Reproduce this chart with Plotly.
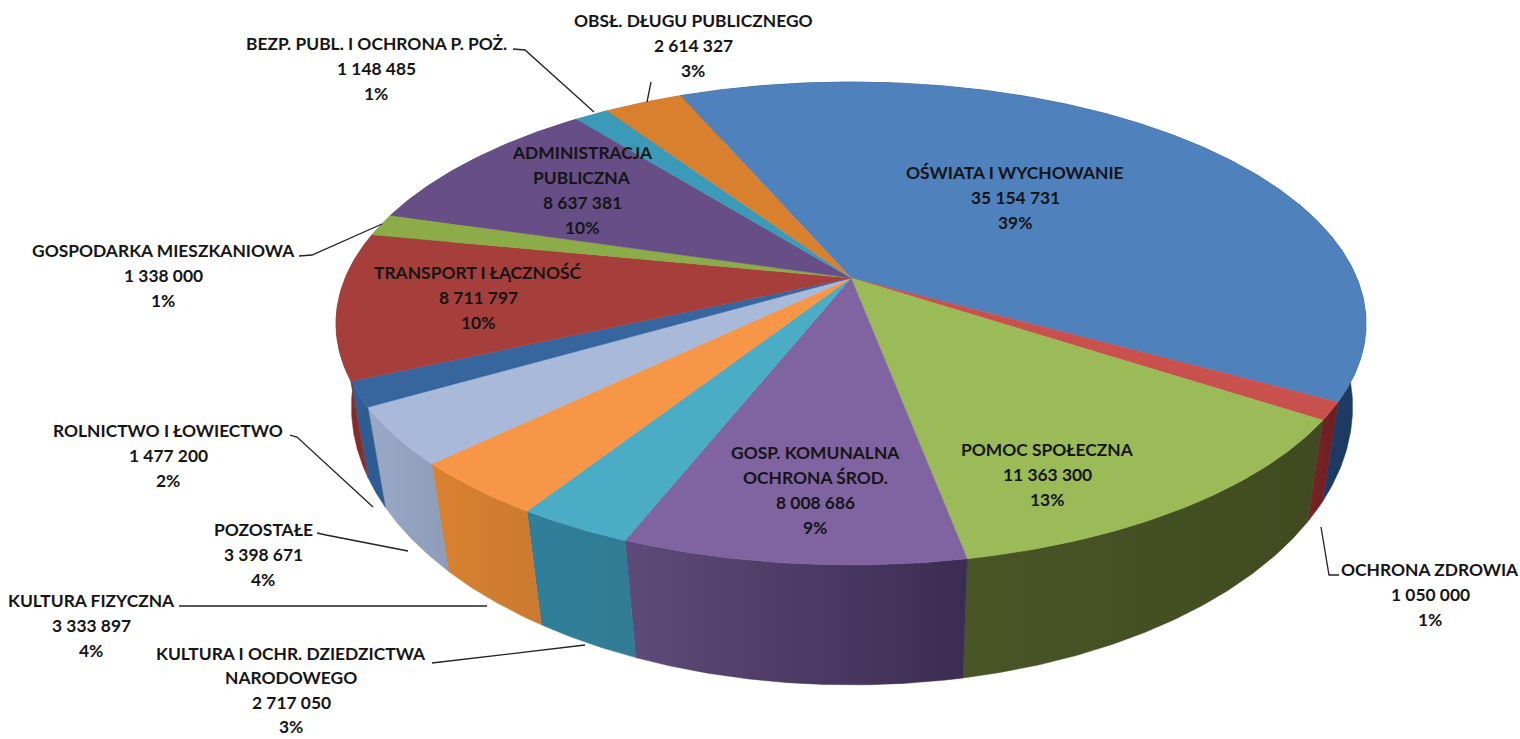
import math
import plotly.graph_objects as go

# ---- data ----
categories = ["OŚWIATA I WYCHOWANIE", "OCHRONA ZDROWIA", "POMOC SPOŁECZNA", "GOSP. KOMUNALNA OCHRONA ŚROD.",
              "KULTURA I OCHR. DZIEDZICTWA NARODOWEGO", "KULTURA FIZYCZNA", "POZOSTAŁE", "ROLNICTWO I ŁOWIECTWO",
              "TRANSPORT I ŁĄCZNOŚĆ", "GOSPODARKA MIESZKANIOWA", "ADMINISTRACJA PUBLICZNA",
              "BEZP. PUBL. I OCHRONA P. POŻ.", "OBSŁ. DŁUGU PUBLICZNEGO"]
values = [35154731, 1050000, 11363300, 8008686, 2717050, 3333897, 3398671, 1477200,
          8711797, 1338000, 8637381, 1148485, 2614327]
percents = ["39%", "1%", "13%", "9%", "3%", "4%", "4%", "2%", "10%", "1%", "10%", "1%", "3%"]

# ---- styles ----
top_colors = ["#4F81BD", "#C8504D", "#9BBB59", "#8064A2", "#4BACC6", "#F79646", "#A9B9D9", "#37669F",
              "#A63F3C", "#8CAB49", "#674E86", "#3A9AB8", "#D9802F"]
side_colors = [("#1C3C68", "#1C3A62"), ("#7A2326", "#6A1E22"), ("#4A5526", "#3F4A20"), ("#5E4B78", "#3C2C52"),
               ("#2F7F9B", "#327C94"), ("#D9812F", "#CB7A30"), ("#9AA9C6", "#8D9DB8"), ("#2F5F96", "#2D5B90"),
               ("#7F2A28", "#8A3230"), ("#6A8030", "#6A8030"), ("#50406A", "#50406A"), ("#2C7A92", "#2C7A92"),
               ("#A86220", "#A86220")]
LABEL_FONT = "Lato"
LABEL_SIZE = 17.4
INK = "#151515"

# ---- projection of the pie disc ----
CX, CY = 851, 278
R, S, K = 505.8, 232.9, 0.1884
START_DEG = -23.3
LOW_CX, LOW_CY, LOW_RX, LOW_S = 852, 359, 0.975 * 505.8, 270 * 1.0


def rim(theta, lower=False):
    u, v = math.sin(theta), math.cos(theta)
    w = 1 + K * v
    if lower:
        w2 = 1 + 0.1715 * v
        return LOW_CX + LOW_RX * u / w2, LOW_CY - LOW_S * v / w2
    return CX + R * u / w, CY - S * v / w


total = sum(values)
fig = go.Figure()
bounds = []
acc = math.radians(START_DEG)
for v in values:
    a1 = acc + v / total * 2 * math.pi
    bounds.append((acc, a1))
    acc = a1


def arc(a0, a1, lower=False):
    n = max(4, int((a1 - a0) * 120))
    return [rim(a0 + (a1 - a0) * i / n, lower) for i in range(n + 1)]


for i, (a0, a1) in enumerate(bounds):
    top = arc(a0, a1)
    low = arc(a0, a1, True)[::-1]
    pts = top + low + [top[0]]
    fig.add_trace(go.Scatter(
        x=[p[0] for p in pts], y=[p[1] for p in pts], mode="lines", fill="toself",
        line=dict(width=0.5, color=side_colors[i][1]),
        fillgradient=dict(type="horizontal", colorscale=[[0, side_colors[i][0]], [1, side_colors[i][1]]]),
        hoverinfo="skip", showlegend=False))

for i, (a0, a1) in enumerate(bounds):
    pts = [(CX, CY)] + arc(a0, a1) + [(CX, CY)]
    fig.add_trace(go.Scatter(
        x=[p[0] for p in pts], y=[p[1] for p in pts], mode="lines", fill="toself",
        fillcolor=top_colors[i], line=dict(width=0.5, color=top_colors[i]),
        name=categories[i], hoverinfo="name", showlegend=False))

# ---- label placement: (x centre, y of first line, line step) ----
label_lines = [["OŚWIATA I WYCHOWANIE"], ["OCHRONA ZDROWIA"], ["POMOC SPOŁECZNA"], ["GOSP. KOMUNALNA", "OCHRONA ŚROD."],
               ["KULTURA I OCHR. DZIEDZICTWA", "NARODOWEGO"], ["KULTURA FIZYCZNA"], ["POZOSTAŁE"],
               ["ROLNICTWO I ŁOWIECTWO"], ["TRANSPORT I ŁĄCZNOŚĆ"], ["GOSPODARKA MIESZKANIOWA"],
               ["ADMINISTRACJA", "PUBLICZNA"], ["BEZP. PUBL. I OCHRONA P. POŻ."], ["OBSŁ. DŁUGU PUBLICZNEGO"]]
label_pos = [(1015, 172, 25.2), (1430, 569, 25.2), (1047, 449, 25.2), (815, 452, 25.2), (291, 653, 24.5),
             (91, 600, 25.2), (263, 529, 25.2), (168, 430, 25.2), (478, 272, 25.2), (163, 250, 25.2),
             (582, 152, 25.2), (376, 43, 25.2), (693, 20, 25.2)]

annotations = []
for i in range(len(values)):
    lines = label_lines[i] + [f"{values[i]:,}".replace(",", " "), percents[i]]
    x, y, step = label_pos[i]
    for j, t in enumerate(lines):
        annotations.append(dict(x=x, y=y + j * step, text=t, showarrow=False, xanchor="center", yanchor="middle",
                                font=dict(family=LABEL_FONT, size=LABEL_SIZE, color=INK, weight=700)))

leaders = [[(1321, 527), (1329, 575), (1339, 575)], [(647, 102), (651, 82)], [(594, 112), (525, 50), (513, 49)],
           [(382, 224), (312, 255), (299, 256)], [(373, 507), (297, 437), (290, 435)],
           [(408, 551), (326, 535), (317, 533)], [(487, 606), (179, 606)], [(585, 645), (432, 663)]]
shapes = []
for seg in leaders:
    path = "M " + " L ".join(f"{p[0]},{p[1]}" for p in seg)
    shapes.append(dict(type="path", path=path, line=dict(color="#222222", width=1.3), xref="x", yref="y"))

fig.update_layout(
    width=1520, height=739, margin=dict(l=0, r=0, t=0, b=0),
    paper_bgcolor="white", plot_bgcolor="white", annotations=annotations, shapes=shapes,
    xaxis=dict(range=[0, 1520], visible=False, fixedrange=True),
    yaxis=dict(range=[739, 0], visible=False, fixedrange=True),
)
fig.write_html("out.html", config={"displayModeBar": False},
               post_script="document.body.style.margin='0';document.body.style.overflow='hidden';")
